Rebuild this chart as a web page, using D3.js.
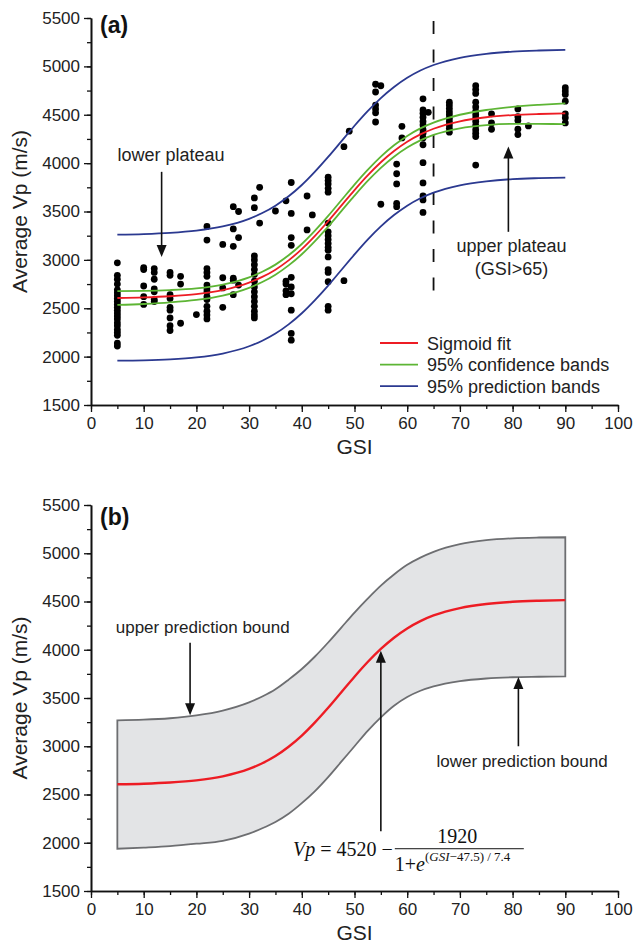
<!DOCTYPE html>
<html>
<head>
<meta charset="utf-8">
<script src="https://cdn.jsdelivr.net/npm/d3@7"></script>
<style>
  body { margin: 0; background: #fff; }
  svg { display: block; font-family: "Liberation Sans", Arial, sans-serif; }
</style>
</head>
<body>
<script>
// ---------------------- DATA ----------------------

// measured points, grouped in columns by GSI
const colGSI = [5, 10, 12, 15, 17, 20, 22, 25, 27, 28, 31, 32, 35, 37, 38, 41, 42, 45,
                48, 49, 54, 55, 58, 59, 63, 64, 68, 73, 76, 81, 83, 90];
const colVp = [
    [2970, 2840, 2800, 2750, 2690, 2660, 2630, 2600, 2570, 2540, 2510, 2480, 2450, 2420, 2390, 2350, 2320, 2280, 2250, 2220, 2140, 2110],
    [2920, 2900, 2730, 2620, 2540],
    [2910, 2870, 2800, 2700, 2670, 2590, 2570],
    [2870, 2840, 2640, 2600, 2510, 2480, 2400, 2320, 2270],
    [2830, 2750, 2345],
    [2435],
    [3345, 3205, 2910, 2870, 2830, 2740, 2700, 2670, 2620, 2590, 2520, 2470, 2430, 2390],
    [3160, 2815, 2710, 2510],
    [3550, 3320, 3140, 2810, 2790, 2640],
    [3500, 3230, 2740],
    [3640, 3540, 3040, 3000, 2950, 2900, 2850, 2780, 2720, 2670, 2620, 2570, 2520, 2470, 2430, 2400],
    [3750, 3380],
    [3505],
    [3610, 2780, 2750, 2680, 2640],
    [3800, 3480, 3230, 3150, 2820, 2720, 2650, 2480, 2240, 2170],
    [3660, 3310],
    [3465],
    [3855, 3820, 3785, 3740, 3700, 3380, 3290, 3250, 3210, 3170, 3130, 3100, 3030, 2900, 2870, 2775, 2520, 2480],
    [4170, 2785],
    [4330],
    [4815, 4735, 4600, 4560, 4520, 4425],
    [4800, 3575],
    [3990, 3890, 3785, 3585, 3550],
    [4380, 4260],
    [4665, 4550, 4515, 4475, 4430, 4395, 4345, 4310, 4260, 4190, 4005, 3795, 3660, 3620, 3490],
    [4525],
    [4630, 4600, 4565, 4530, 4500, 4465, 4430, 4395, 4360, 4320],
    [4800, 4760, 4720, 4630, 4580, 4535, 4500, 4465, 4430, 4390, 4345, 4310, 4275, 3980],
    [4510, 4415, 4350],
    [4560, 4480, 4440, 4350, 4295],
    [4385],
    [4780, 4745, 4710, 4640, 4510, 4470, 4415]
];

// curves, read at these GSI values
const curveGSI = [5, 10, 15, 20, 25, 30, 32.5, 35, 37.5, 40, 42.5, 45, 47.5, 50, 52.5,
                  55, 57.5, 60, 62.5, 65, 70, 75, 80, 85, 90];
const fitVp     = [2606, 2612, 2624, 2646, 2688, 2765, 2824, 2899, 2995, 3111, 3248, 3399, 3560, 3721, 3873,
                   4009, 4125, 4221, 4297, 4355, 4432, 4474, 4497, 4508, 4514];
const confUpper = [2678, 2680, 2688, 2706, 2745, 2819, 2877, 2951, 3047, 3164, 3302, 3454, 3616, 3778, 3930,
                   4067, 4184, 4281, 4359, 4418, 4500, 4549, 4581, 4602, 4618];
const confLower = [2534, 2544, 2560, 2586, 2631, 2711, 2771, 2847, 2943, 3058, 3194, 3344, 3504, 3664, 3816,
                   3951, 4066, 4161, 4235, 4292, 4360, 4393, 4406, 4405, 4404];
const predUpper = [3261, 3267, 3279, 3302, 3345, 3424, 3484, 3560, 3657, 3774, 3912, 4064, 4225, 4386, 4537,
                   4672, 4787, 4882, 4957, 5014, 5089, 5130, 5153, 5164, 5170];
const predLower = [1958, 1962, 1972, 1992, 2032, 2107, 2164, 2238, 2333, 2448, 2584, 2734, 2895, 3056, 3209,
                   3346, 3463, 3560, 3637, 3695, 3771, 3812, 3835, 3845, 3851];
// panel (b) band as it is drawn
const boundUpper = [3269, 3275, 3290, 3320, 3370, 3455, 3515, 3590, 3690, 3800, 3930, 4075, 4230, 4385, 4530,
                    4665, 4780, 4880, 4955, 5015, 5095, 5135, 5155, 5163, 5166];
const boundLower = [1938, 1950, 1965, 1990, 2020, 2095, 2150, 2215, 2300, 2410, 2535, 2680, 2840, 3000, 3160,
                    3300, 3420, 3510, 3575, 3620, 3675, 3702, 3715, 3720, 3724];

const legendNames = ["Sigmoid fit", "95% confidence bands", "95% prediction bands"];
const legendColors = ["#ed1c24", "#5db534", "#2b3990"];

const xMajor = d3.range(0, 101, 10);
const xMinor = d3.range(0, 101, 5);
const yMajor = d3.range(1500, 5501, 500);
const yMinor = d3.range(1500, 5501, 250);

// ---------------------- HELPERS ----------------------

const RED = legendColors[0], GREEN = legendColors[1], BLUE = legendColors[2];

function drawAxes(g, x, y) {
    const y0 = y.range()[0];
    const x0 = x.range()[0];

    g.append("g").attr("transform", `translate(0,${y0})`)
        .call(d3.axisBottom(x).tickValues(xMinor).tickSize(4).tickSizeOuter(0).tickFormat(""));
    g.append("g").attr("class", "ax").attr("transform", `translate(0,${y0})`)
        .call(d3.axisBottom(x).tickValues(xMajor).tickSize(7).tickSizeOuter(0).tickPadding(5)
            .tickFormat(d3.format("d")));

    g.append("g").attr("transform", `translate(${x0},0)`)
        .call(d3.axisLeft(y).tickValues(yMinor).tickSize(4).tickSizeOuter(0).tickFormat(""));
    g.append("g").attr("class", "ax").attr("transform", `translate(${x0},0)`)
        .call(d3.axisLeft(y).tickValues(yMajor).tickSize(7).tickSizeOuter(0).tickPadding(4)
            .tickFormat(d3.format("d")));

    g.selectAll(".domain").attr("stroke", "#111").attr("stroke-width", 1.6);
    g.selectAll(".tick line").attr("stroke", "#111").attr("stroke-width", 1.3);
    g.selectAll(".ax text").attr("font-size", 17).attr("fill", "#222")
        .attr("font-family", "'Liberation Sans', Arial, sans-serif");

    // axis titles
    g.append("text")
        .attr("x", d3.mean(x.range()))
        .attr("y", y0 + 49)
        .attr("text-anchor", "middle")
        .attr("font-size", 21).attr("fill", "#222")
        .text("GSI");
    g.append("text")
        .attr("transform", `translate(27,${d3.mean(y.range())}) rotate(-90)`)
        .attr("text-anchor", "middle")
        .attr("font-size", 21).attr("fill", "#222")
        .text("Average Vp (m/s)");
}

function arrow(g, xPos, yFrom, yTip) {
    const dir = yTip > yFrom ? 1 : -1;
    g.append("line")
        .attr("x1", xPos).attr("x2", xPos)
        .attr("y1", yFrom).attr("y2", yTip - dir * 10)
        .attr("stroke", "#111").attr("stroke-width", 1.6);
    g.append("path")
        .attr("d", `M${xPos},${yTip} L${xPos - 5},${yTip - dir * 12} L${xPos + 5},${yTip - dir * 12} Z`)
        .attr("fill", "#111");
}

function curvePoints(values) {
    return curveGSI.map((g, i) => [g, values[i]]);
}

// ---------------------- PANEL (a) ----------------------

const svg = d3.select("body").append("svg")
    .attr("width", 633)
    .attr("height", 945);

const xA = d3.scaleLinear().domain([0, 100]).range([91, 618]);
const yA = d3.scaleLinear().domain([1500, 5500]).range([405, 18]);

const gA = svg.append("g");

const lineA = d3.line()
    .x(d => xA(d[0]))
    .y(d => yA(d[1]))
    .curve(d3.curveMonotoneX);

// dashed boundary at GSI 65
gA.append("line")
    .attr("x1", xA(65)).attr("x2", xA(65))
    .attr("y1", yA(5470)).attr("y2", yA(2590))
    .attr("stroke", "#111").attr("stroke-width", 1.8)
    .attr("stroke-dasharray", "13,15.5");

// points
const points = [];
colGSI.forEach((g, i) => colVp[i].forEach(v => points.push([g, v])));

gA.selectAll(".dot")
    .data(points)
    .enter().append("circle")
    .attr("class", "dot")
    .attr("cx", d => xA(d[0]))
    .attr("cy", d => yA(d[1]))
    .attr("r", 3.4)
    .attr("fill", "#000");

// curves
[[predUpper, BLUE], [predLower, BLUE], [confUpper, GREEN], [confLower, GREEN], [fitVp, RED]]
    .forEach(([vals, col]) => {
        gA.append("path")
            .attr("d", lineA(curvePoints(vals)))
            .attr("fill", "none")
            .attr("stroke", col)
            .attr("stroke-width", 1.8);
    });

drawAxes(gA, xA, yA);

gA.append("text")
    .attr("x", 100).attr("y", yA(5340))
    .attr("font-size", 23).attr("font-weight", "bold").attr("fill", "#111")
    .text("(a)");

// annotations
gA.append("text")
    .attr("x", xA(15.2)).attr("y", yA(4025))
    .attr("text-anchor", "middle").attr("font-size", 18).attr("fill", "#222")
    .text("lower plateau");
arrow(gA, xA(13.4), yA(3910), yA(3030));

arrow(gA, xA(79.2), yA(3290), yA(4172));
gA.append("text")
    .attr("x", xA(79.8)).attr("y", yA(3082))
    .attr("text-anchor", "middle").attr("font-size", 18).attr("fill", "#222")
    .text("upper plateau");
gA.append("text")
    .attr("x", xA(79.8)).attr("y", yA(2844))
    .attr("text-anchor", "middle").attr("font-size", 18).attr("fill", "#222")
    .text("(GSI>65)");

// legend
const legend = gA.append("g");
legendNames.forEach((name, i) => {
    const ly = 343 + i * 21.6;
    legend.append("line")
        .attr("x1", 380).attr("x2", 418)
        .attr("y1", ly).attr("y2", ly)
        .attr("stroke", legendColors[i]).attr("stroke-width", 1.8);
    legend.append("text")
        .attr("x", 427).attr("y", ly + 6.5)
        .attr("font-size", 18).attr("fill", "#222")
        .text(name);
});

// ---------------------- PANEL (b) ----------------------

const xB = d3.scaleLinear().domain([0, 100]).range([91, 618]);
const yB = d3.scaleLinear().domain([1500, 5500]).range([891, 505]);

const gB = svg.append("g");

const areaB = d3.area()
    .x(d => xB(d[0]))
    .y0(d => yB(d[1]))
    .y1(d => yB(d[2]))
    .curve(d3.curveMonotoneX);

gB.append("path")
    .attr("d", areaB(curveGSI.map((g, i) => [g, boundLower[i], boundUpper[i]])) )
    .attr("fill", "#e3e4e6")
    .attr("stroke", "#6d6e71")
    .attr("stroke-width", 1.8)
    .attr("stroke-linejoin", "miter");

gB.append("path")
    .attr("d", d3.line().x(d => xB(d[0])).y(d => yB(d[1])).curve(d3.curveMonotoneX)(curvePoints(fitVp)))
    .attr("fill", "none")
    .attr("stroke", RED)
    .attr("stroke-width", 2.4);

drawAxes(gB, xB, yB);

gB.append("text")
    .attr("x", 100).attr("y", yB(5295))
    .attr("font-size", 23).attr("font-weight", "bold").attr("fill", "#111")
    .text("(b)");

gB.append("text")
    .attr("x", xB(21.2)).attr("y", yB(4176))
    .attr("text-anchor", "middle").attr("font-size", 17).attr("fill", "#222")
    .text("upper prediction bound");
arrow(gB, xB(18.8), yB(4072), yB(3322));

arrow(gB, xB(55), yB(2120), yB(3990));

arrow(gB, xB(81.1), yB(3000), yB(3718));
gB.append("text")
    .attr("x", xB(81.8)).attr("y", yB(2790))
    .attr("text-anchor", "middle").attr("font-size", 17).attr("fill", "#222")
    .text("lower prediction bound");

// equation of the fit
const eq = gB.append("g")
    .attr("transform", `translate(${xB(36.4)},${yB(1938)})`)
    .attr("font-family", "'Liberation Serif', 'Times New Roman', serif")
    .attr("fill", "#111");

const lhs = eq.append("text").attr("x", 110).attr("y", 7.5)
    .attr("text-anchor", "end").attr("font-size", 20);
lhs.append("tspan").attr("font-style", "italic").text("Vp");
lhs.append("tspan").text(" = 4520 \u2212 ");

eq.append("line")
    .attr("x1", 112).attr("x2", 241)
    .attr("y1", 0).attr("y2", 0)
    .attr("stroke", "#111").attr("stroke-width", 1);

eq.append("text").attr("x", 174.5).attr("y", -6)
    .attr("text-anchor", "middle").attr("font-size", 20)
    .text("1920");

const den = eq.append("text").attr("x", 112).attr("y", 22.4).attr("font-size", 20);
den.append("tspan").text("1+");
den.append("tspan").attr("font-style", "italic").text("e");
const sup = den.append("tspan").attr("font-size", 13).attr("dy", -9.7);
sup.append("tspan").text("(");
sup.append("tspan").attr("font-style", "italic").text("GSI");
sup.append("tspan").text("\u221247.5) / 7.4");
</script>
</body>
</html>
